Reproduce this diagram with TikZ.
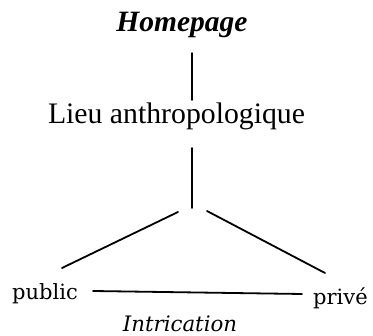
\documentclass[tikz,border=0pt]{standalone}
\usepackage{fontspec}
\setmainfont{Liberation Serif}
\newfontfamily\schoolfont{DejaVu Serif}
\begin{document}
\begin{tikzpicture}[x=1pt,y=-1pt,
  txt/.style={inner sep=0pt, anchor=base},
  small/.style={font=\fontsize{21}{25}\selectfont\schoolfont},
  conn/.style={line width=1.8pt, line cap=round}]
\useasboundingbox (0,0) rectangle (373,336);
\node[txt, font=\fontsize{29.5}{35}\selectfont\bfseries\itshape] (home) at (182,32) {Homepage};
\node[txt, font=\fontsize{29.75}{35}\selectfont] (lieu) at (176.5,124) {Lieu anthropologique};
\node[txt, small, anchor=base west] (public) at (12,300) {public};
\node[txt, small, anchor=base west] (prive) at (313,305) {privé};
\node[txt, font=\fontsize{21.3}{25}\selectfont\schoolfont\itshape] (intr) at (180,332) {Intrication};
\coordinate (v1a) at (192,53);
\coordinate (v1b) at (192,100);
\coordinate (v2a) at (192,148);
\coordinate (v2b) at (192,208);
\coordinate (dla) at (178,212);
\coordinate (dlb) at (62,268);
\coordinate (dra) at (207,211);
\coordinate (drb) at (325,273);
\coordinate (ha) at (93,291);
\coordinate (hb) at (302,294);
\draw[conn] (v1a) -- (v1b);
\draw[conn] (v2a) -- (v2b);
\draw[conn] (dla) -- (dlb);
\draw[conn] (dra) -- (drb);
\draw[conn] (ha) -- (hb);
\end{tikzpicture}
\end{document}
